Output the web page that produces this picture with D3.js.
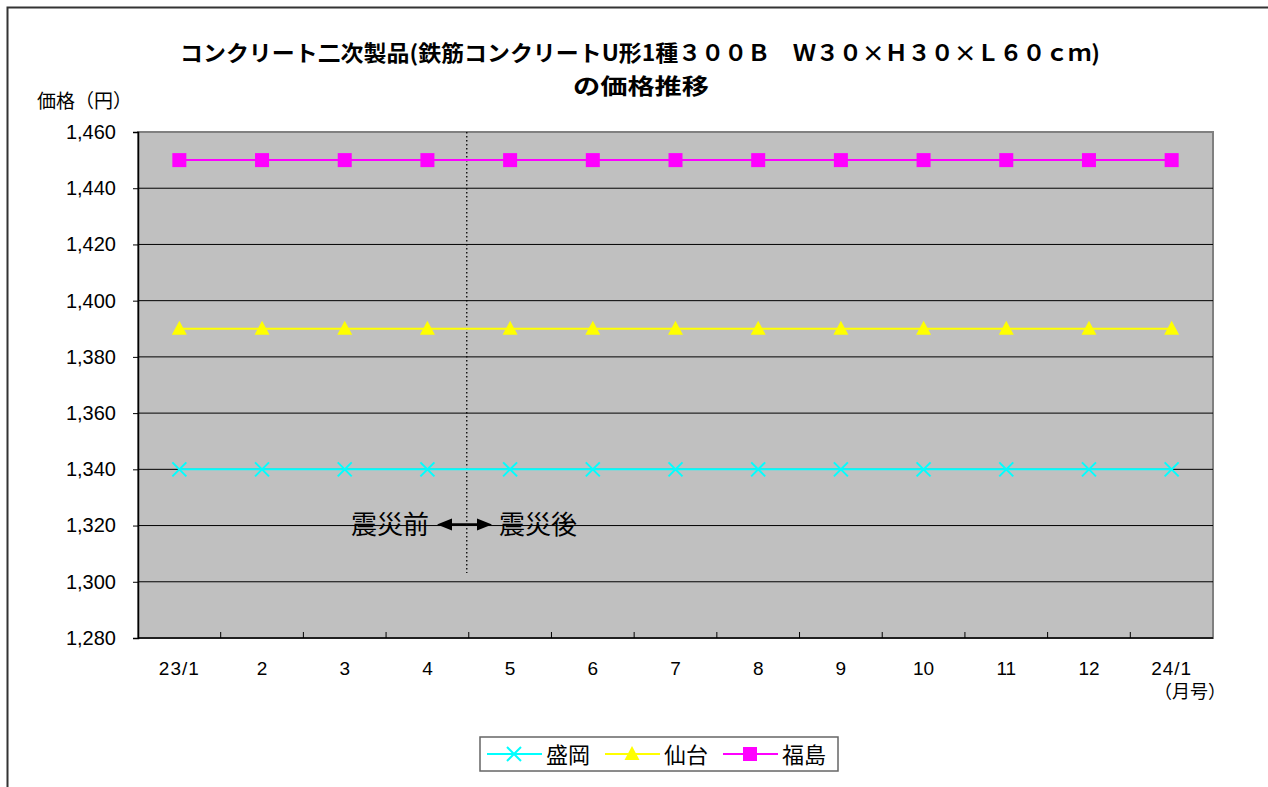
<!DOCTYPE html>
<html><head><meta charset="utf-8">
<script src="https://cdn.jsdelivr.net/npm/d3@7"></script>
<style>body{margin:0;background:#fff;} svg{display:block;font-family:"Liberation Sans","Noto Sans CJK JP",sans-serif;}</style>
</head><body>
<svg id="c" width="1268" height="787"></svg>
<script>
const categories = ["23/1","2","3","4","5","6","7","8","9","10","11","12","24/1"];
const morioka = [1340,1340,1340,1340,1340,1340,1340,1340,1340,1340,1340,1340,1340];
const sendai  = [1390,1390,1390,1390,1390,1390,1390,1390,1390,1390,1390,1390,1390];
const fukushima = [1450,1450,1450,1450,1450,1450,1450,1450,1450,1450,1450,1450,1450];
const yTicks = [1280,1300,1320,1340,1360,1380,1400,1420,1440,1460];
const seriesNames = ["盛岡","仙台","福島"];
const seriesColors = ["#00FFFF","#FFFF00","#FF00FF"];
const seriesMarkers = ["x","triangle","square"];

const svg = d3.select("#c");
const L=138, R=1213, T=132, B=638;
const x = d3.scaleBand().domain(categories).range([L,R]);
const y = d3.scaleLinear().domain([1280,1460]).range([B,T]);

// outer frame
svg.append("rect").attr("x",7.5).attr("y",7.5).attr("width",1300).attr("height",820)
  .attr("fill","#fff").attr("stroke","#333").attr("stroke-width",2);

// plot bg
svg.append("rect").attr("x",L).attr("y",T).attr("width",R-L).attr("height",B-T)
  .attr("fill","#C0C0C0").attr("stroke","#808080").attr("stroke-width",2);

// gridlines
svg.append("g").selectAll("line").data(yTicks.slice(1,-1)).join("line")
  .attr("x1",L).attr("x2",R).attr("y1",d=>y(d)).attr("y2",d=>y(d))
  .attr("stroke","#000").attr("stroke-width",1);

// y axis
const yAxis = d3.axisLeft(y).tickValues(yTicks).tickSize(5).tickPadding(17).tickFormat(d3.format(","));
const gy = svg.append("g").attr("transform",`translate(${L},0)`).call(yAxis);
gy.attr("font-size",20).attr("font-family","Liberation Sans, sans-serif");
gy.select(".domain").attr("stroke","#000").attr("stroke-width",1.5);
gy.selectAll(".tick line").attr("stroke","#000");
gy.selectAll("text").attr("font-size",20).attr("fill","#000");

// x axis
const bounds = categories.slice(1).map(c=>x(c));
svg.append("line").attr("x1",L).attr("x2",R).attr("y1",B).attr("y2",B).attr("stroke","#000").attr("stroke-width",1.5);
svg.append("g").selectAll("line").data(bounds).join("line")
  .attr("x1",d=>d).attr("x2",d=>d).attr("y1",B).attr("y2",B-6).attr("stroke","#000");
svg.append("g").selectAll("text").data(categories).join("text")
  .attr("x",d=>x(d)+x.bandwidth()/2).attr("y",675).attr("text-anchor","middle")
  .attr("font-size",19).attr("fill","#000").attr("letter-spacing",d=>d.includes("/")?"1":"0").text(d=>d);
svg.append("text").attr("x",1190).attr("y",698).attr("text-anchor","middle").attr("font-size",18)
  .attr("font-family","Noto Sans CJK JP").text("（月号）");

// dotted divider
const divX = x("5");
svg.append("line").attr("x1",divX-2).attr("x2",divX-2).attr("y1",T).attr("y2",573)
  .attr("stroke","#000").attr("stroke-width",1.3).attr("stroke-dasharray","1.5,2.5");

// series
const data = [morioka,sendai,fukushima];
const cx = c => x(c)+x.bandwidth()/2;
data.forEach((vals,i)=>{
  const line = d3.line().x((d,j)=>cx(categories[j])).y(d=>y(d));
  svg.append("path").datum(vals).attr("d",line).attr("fill","none")
    .attr("stroke",seriesColors[i]).attr("stroke-width",2);
  const g = svg.append("g");
  vals.forEach((v,j)=>drawMarker(g,seriesMarkers[i],cx(categories[j]),y(v),seriesColors[i]));
});

function drawMarker(g,type,px,py,col){
  if(type==="x"){
    g.append("path").attr("d",`M${px-7},${py-7}L${px+7},${py+7}M${px-7},${py+7}L${px+7},${py-7}`)
      .attr("stroke",col).attr("stroke-width",2);
  } else if(type==="triangle"){
    g.append("path").attr("d",`M${px},${py-8}L${px+7.5},${py+6}L${px-7.5},${py+6}Z`).attr("fill",col);
  } else {
    g.append("rect").attr("x",px-7).attr("y",py-7).attr("width",14).attr("height",14).attr("fill",col);
  }
}

// annotation
svg.append("text").attr("x",390).attr("y",534).attr("text-anchor","middle").attr("font-size",26)
  .attr("font-family","Noto Sans CJK JP").text("震災前");
svg.append("text").attr("x",538).attr("y",534).attr("text-anchor","middle").attr("font-size",26)
  .attr("font-family","Noto Sans CJK JP").text("震災後");
svg.append("line").attr("x1",446).attr("x2",484).attr("y1",524.5).attr("y2",524.5).attr("stroke","#000").attr("stroke-width",2.5);
svg.append("path").attr("d","M437,524.5L452,518.5L452,530.5Z").attr("fill","#000");
svg.append("path").attr("d","M492,524.5L477,518.5L477,530.5Z").attr("fill","#000");

// title
svg.append("text").attr("x",640).attr("y",61).attr("text-anchor","middle").attr("font-size",22)
  .attr("font-weight","bold").attr("font-family","Noto Sans CJK JP")
  .attr("textLength",920).attr("lengthAdjust","spacingAndGlyphs")
  .text("コンクリート二次製品(鉄筋コンクリートU形1種３００Ｂ　Ｗ３０×Ｈ３０×Ｌ６０ｃｍ)");
svg.append("text").attr("x",641).attr("y",94).attr("text-anchor","middle").attr("font-size",22)
  .attr("font-weight","bold").attr("font-family","Noto Sans CJK JP")
  .attr("textLength",136).attr("lengthAdjust","spacingAndGlyphs").text("の価格推移");

// y label
svg.append("text").attr("x",37).attr("y",108).attr("font-size",19)
  .attr("font-family","Noto Sans CJK JP").text("価格（円）");

// legend
const lg = svg.append("g");
lg.append("rect").attr("x",480).attr("y",737).attr("width",358).attr("height",34)
  .attr("fill","#fff").attr("stroke","#666").attr("stroke-width",1.5);
const legX = [487,605,723];
seriesNames.forEach((n,i)=>{
  const lx = legX[i];
  lg.append("line").attr("x1",lx).attr("x2",lx+55).attr("y1",754).attr("y2",754).attr("stroke",seriesColors[i]).attr("stroke-width",2);
  drawMarker(lg,seriesMarkers[i],lx+27,754,seriesColors[i]);
  lg.append("text").attr("x",lx+59).attr("y",763).attr("font-size",22).attr("font-family","Noto Sans CJK JP").text(n);
});
</script>
</body></html>
